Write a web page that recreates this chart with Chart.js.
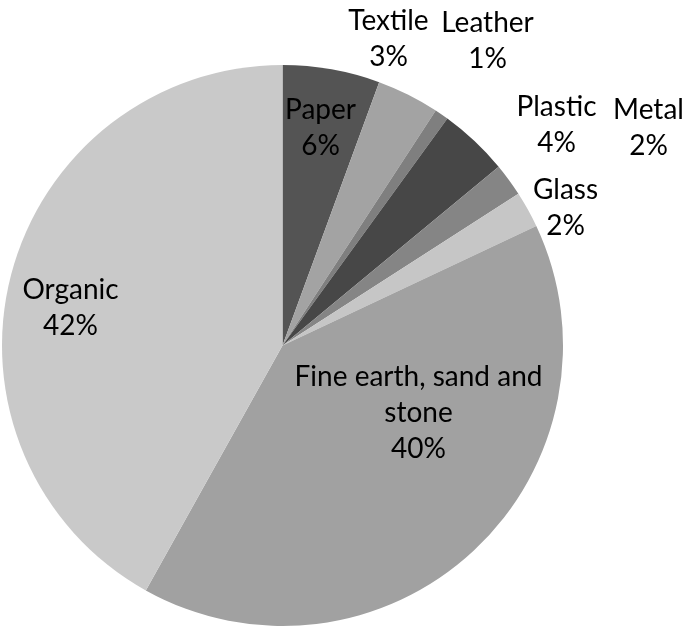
<!DOCTYPE html>
<html>
<head>
<meta charset="utf-8">
<script src="https://cdn.jsdelivr.net/npm/chart.js@4"></script>
<style>
  html, body { margin: 0; padding: 0; background: #fff; }
  #wrap { width: 685px; height: 628px; }
</style>
</head>
<body>
<div id="wrap"><canvas id="pie"></canvas></div>
<script>
// categories, clockwise from 12 o'clock
var categories = ['Paper', 'Textile', 'Leather', 'Plastic', 'Metal', 'Glass', 'Fine earth, sand and stone', 'Organic'];
// slice sizes (percent)
var shares = [5.6, 3.6, 0.8, 4.0, 1.9, 2.1, 40.1, 41.9];
// percentages as printed on the labels
var pctLabels = ['6%', '3%', '1%', '4%', '2%', '2%', '40%', '42%'];
var sliceColors = ['#545454', '#a3a3a3', '#7f7f7f', '#474747', '#858585', '#c6c6c6', '#a1a1a1', '#c9c9c9'];

// label text lines and where they sit, relative to the pie centre
var labelLines = [['Paper'], ['Textile'], ['Leather'], ['Plastic'], ['Metal'], ['Glass'], ['Fine earth, sand and', 'stone'], ['Organic']];
var labelOffsets = [[38, -218], [106, -307], [205, -305], [274, -221], [366, -218], [283, -138], [136, 67], [-212, -38]];

var labelPlugin = {
    id: 'sliceLabels',
    afterDatasetsDraw: function (chart) {
        var ctx = chart.ctx;
        var arcs = chart.getDatasetMeta(0).data;
        ctx.save();
        ctx.font = '28px Lato, "Open Sans", sans-serif';
        ctx.fillStyle = '#000';
        ctx.textAlign = 'center';
        ctx.textBaseline = 'middle';
        var lineH = 36;
        arcs.forEach(function (arc, i) {
            var lines = labelLines[i].concat([pctLabels[i]]);
            var cx = arc.x + labelOffsets[i][0];
            var cy = arc.y + labelOffsets[i][1];
            var top = cy - (lines.length - 1) * lineH / 2;
            lines.forEach(function (t, j) {
                ctx.fillText(t, cx, top + j * lineH);
            });
        });
        ctx.restore();
    }
};

new Chart(document.getElementById('pie'), {
    type: 'pie',
    data: {
        labels: categories,
        datasets: [{
            data: shares,
            backgroundColor: sliceColors,
            borderWidth: 0
        }]
    },
    options: {
        responsive: true,
        maintainAspectRatio: false,
        animation: false,
        layout: { padding: { left: 2, right: 122, top: 65, bottom: 2 } },
        plugins: {
            legend: { display: false },
            tooltip: { enabled: false }
        }
    },
    plugins: [labelPlugin]
});
</script>
</body>
</html>
